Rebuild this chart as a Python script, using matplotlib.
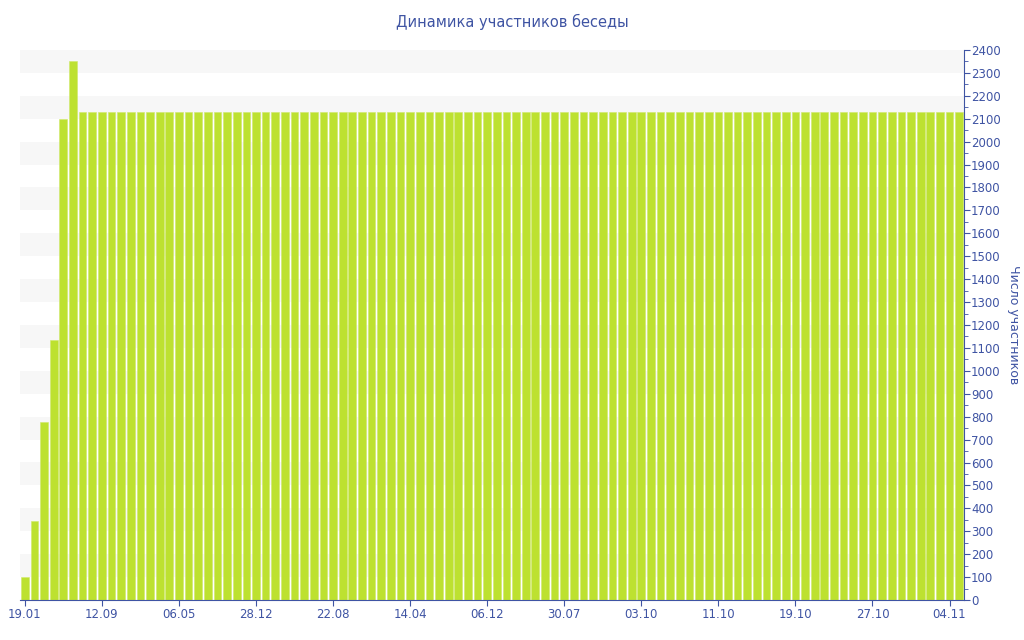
import matplotlib.pyplot as plt
import numpy as np

# chat member counts, one bar per snapshot
members = [100, 345, 777, 1135, 2100, 2353] + [2130] * 92

# every 8th snapshot carries a date label
tick_labels = ["19.01", "12.09", "06.05", "28.12", "22.08", "14.04", "06.12",
               "30.07", "03.10", "11.10", "19.10", "27.10", "04.11"]
tick_step = 8

blue = "#3f54a3"

fig = plt.figure(figsize=(10.24, 6.4), dpi=100)
ax = fig.add_axes([20 / 1024, 40 / 640, 944 / 1024, 550 / 640])

x = np.arange(len(members))

# alternating background bands
for lo in range(100, 2400, 200):
    ax.axhspan(lo, lo + 100, color="#f7f7f7", zorder=0, lw=0)

ax.bar(x, members, width=0.8, color="#bde130", edgecolor="#cfe96a",
       linewidth=0.4, zorder=2)

ax.set_xlim(-0.5, len(members) - 0.5)
ax.set_ylim(0, 2400)

ax.set_xticks(x[::tick_step][:len(tick_labels)])
ax.set_xticklabels(tick_labels)

ax.yaxis.tick_right()
ax.yaxis.set_label_position("right")
ax.set_yticks(np.arange(0, 2401, 100))
ax.set_yticks(np.arange(50, 2400, 100), minor=True)
ax.set_ylabel("Число участников", rotation=-90, labelpad=14, color=blue,
              fontsize=9)

for side in ["top", "left"]:
    ax.spines[side].set_visible(False)
ax.spines["bottom"].set_color(blue)
ax.spines["right"].set_color(blue)

ax.tick_params(axis="x", colors=blue, labelsize=8.5, length=4, pad=2)
ax.tick_params(axis="y", which="major", colors=blue, labelsize=8.5,
               length=4, pad=1)
ax.tick_params(axis="y", which="minor", colors=blue, length=3)

fig.text(0.5, 1 - 22 / 640, "Динамика участников беседы", ha="center",
         va="center", color=blue, fontsize=10.5)

fig.savefig("out.png", dpi=100)
